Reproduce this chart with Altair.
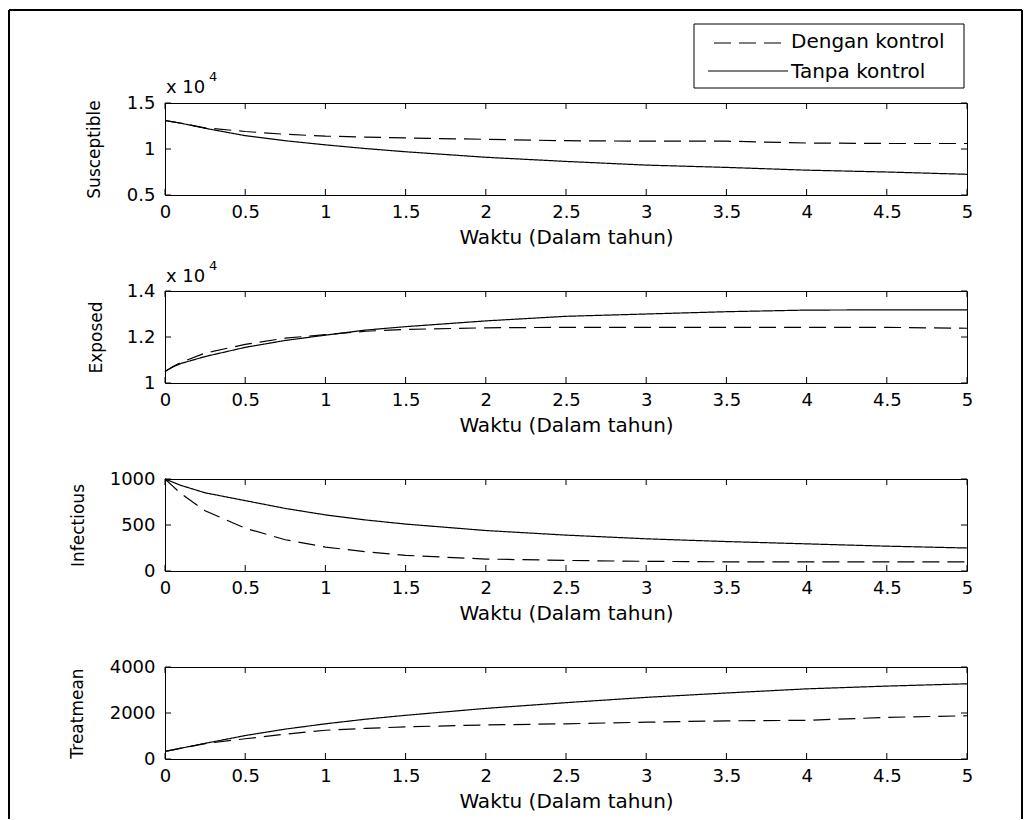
import altair as alt
import pandas as pd

# Time grid (years) and series names
T = [0, 0.05, 0.1, 0.25, 0.5, 0.75, 1, 1.25, 1.5, 2, 2.5, 3, 3.5, 4, 4.5, 5]
SERIES = ["Dengan kontrol", "Tanpa kontrol"]

# Compartment trajectories with and without control
S_DENGAN = [13100, 12950, 12800, 12300, 11900, 11600, 11400, 11300, 11200, 11050, 10900, 10850, 10850, 10650, 10600, 10600]
S_TANPA = [13100, 12950, 12800, 12250, 11450, 10900, 10450, 10050, 9700, 9100, 8650, 8250, 8000, 7700, 7500, 7250]
E_DENGAN = [10500, 10720, 10900, 11300, 11680, 11950, 12100, 12250, 12330, 12400, 12420, 12420, 12420, 12420, 12420, 12380]
E_TANPA = [10500, 10700, 10850, 11150, 11550, 11850, 12080, 12300, 12450, 12700, 12900, 13000, 13100, 13170, 13180, 13180]
I_DENGAN = [1000, 920, 840, 655, 465, 340, 260, 210, 170, 130, 115, 105, 100, 100, 100, 100]
I_TANPA = [1000, 965, 930, 850, 765, 680, 610, 555, 510, 440, 390, 350, 320, 295, 270, 250]
TR_DENGAN = [330, 400, 470, 670, 880, 1080, 1250, 1330, 1400, 1480, 1530, 1600, 1660, 1680, 1810, 1880]
TR_TANPA = [330, 400, 470, 680, 1020, 1300, 1530, 1730, 1900, 2200, 2450, 2680, 2870, 3050, 3170, 3270]

# Tick values
X_TICKS = [0, 0.5, 1, 1.5, 2, 2.5, 3, 3.5, 4, 4.5, 5]
S_TICKS = [5000, 10000, 15000]
E_TICKS = [10000, 12000, 14000]
I_TICKS = [0, 500, 1000]
TR_TICKS = [0, 2000, 4000]

X_TITLE = "Waktu (Dalam tahun)"
EXPONENT = ["x 10", "4"]

W, H = 802, 92
TICK = 6
FONT = "DejaVu Sans"
DASH = [17, 8]
ONE = pd.DataFrame({"k": [0]})


def panel(title, dengan, tanpa, domain, yticks, scaled, title_x, exp_base=None):
    df = pd.DataFrame({
        "t": T * 2,
        "value": dengan + tanpa,
        "series": [SERIES[0]] * len(T) + [SERIES[1]] * len(T),
    })
    xenc = alt.X(
        "t:Q",
        scale=alt.Scale(domain=[0, 5], nice=False, zero=False),
        axis=alt.Axis(values=X_TICKS, labelExpr="'' + datum.value", title=X_TITLE,
                      titleX=W / 2, titleY=42, titleAlign="center", titleBaseline="middle"),
    )
    label_expr = "'' + datum.value / 10000" if scaled else "'' + datum.value"
    yenc = alt.Y(
        "value:Q",
        scale=alt.Scale(domain=domain, nice=False, zero=False),
        axis=alt.Axis(values=yticks, labelExpr=label_expr, title=title,
                      titleX=title_x, titleY=H / 2, titleAngle=270,
                      titleAlign="center", titleBaseline="middle"),
    )
    lines = alt.Chart(df).mark_line(color="black", strokeWidth=1.2).encode(
        x=xenc, y=yenc,
        strokeDash=alt.StrokeDash("series:N", scale=alt.Scale(domain=SERIES, range=[DASH, [1, 0]]), legend=None),
    )
    xt = pd.DataFrame({"t": X_TICKS})
    yt = pd.DataFrame({"value": yticks})
    rule = dict(color="black", strokeWidth=1)
    ticks = [
        alt.Chart(xt).mark_rule(**rule).encode(x=xenc, y=alt.value(0), y2=alt.value(TICK)),
        alt.Chart(xt).mark_rule(**rule).encode(x=xenc, y=alt.value(H - TICK), y2=alt.value(H)),
        alt.Chart(yt).mark_rule(**rule).encode(y=yenc, x=alt.value(0), x2=alt.value(TICK)),
        alt.Chart(yt).mark_rule(**rule).encode(y=yenc, x=alt.value(W - TICK), x2=alt.value(W)),
    ]
    layers = [lines] + ticks
    if exp_base is not None:
        layers.append(alt.Chart(ONE).mark_text(align="left", baseline="alphabetic", font=FONT, fontSize=18, color="black")
                      .encode(x=alt.value(1), y=alt.value(exp_base), text=alt.value(EXPONENT[0])))
        layers.append(alt.Chart(ONE).mark_text(align="left", baseline="alphabetic", font=FONT, fontSize=13, color="black")
                      .encode(x=alt.value(44), y=alt.value(exp_base - 12), text=alt.value(EXPONENT[1])))
    return layers


# Figure frame and legend, drawn relative to the first panel
frame = dict(color="black", strokeWidth=2)
decor = [
    alt.Chart(ONE).mark_rule(**frame).encode(x=alt.value(-156), x2=alt.value(857), y=alt.value(-93)),
    alt.Chart(ONE).mark_rule(**frame).encode(x=alt.value(-156), y=alt.value(-93), y2=alt.value(716)),
    alt.Chart(ONE).mark_rule(**frame).encode(x=alt.value(857), y=alt.value(-93), y2=alt.value(716)),
    alt.Chart(ONE).mark_rect(fill="white", stroke="black", strokeWidth=1).encode(
        x=alt.value(529), x2=alt.value(799), y=alt.value(-79), y2=alt.value(-15)),
    alt.Chart(ONE).mark_rule(color="black", strokeWidth=1.2, strokeDash=DASH).encode(
        x=alt.value(549), x2=alt.value(623), y=alt.value(-60)),
    alt.Chart(ONE).mark_rule(color="black", strokeWidth=1.2).encode(
        x=alt.value(543), x2=alt.value(623), y=alt.value(-32)),
    alt.Chart(ONE).mark_text(align="left", baseline="middle", font=FONT, fontSize=20, color="black").encode(
        x=alt.value(626), y=alt.value(-61), text=alt.value(SERIES[0])),
    alt.Chart(ONE).mark_text(align="left", baseline="middle", font=FONT, fontSize=20, color="black").encode(
        x=alt.value(626), y=alt.value(-31), text=alt.value(SERIES[1])),
]

p1 = alt.layer(*(panel("Susceptible", S_DENGAN, S_TANPA, [5000, 15000], S_TICKS, True, -71, -10) + decor)).properties(width=W, height=H)
p2 = alt.layer(*panel("Exposed", E_DENGAN, E_TANPA, [10000, 14000], E_TICKS, True, -69, -9)).properties(width=W, height=H)
p3 = alt.layer(*panel("Infectious", I_DENGAN, I_TANPA, [0, 1000], I_TICKS, False, -87)).properties(width=W, height=H)
p4 = alt.layer(*panel("Treatmean", TR_DENGAN, TR_TANPA, [0, 4000], TR_TICKS, False, -88)).properties(width=W, height=H)

chart = alt.vconcat(p1, p2, p3, p4, spacing=96, bounds="flush").properties(
    padding={"left": 7, "top": 8, "right": 0, "bottom": 0},
    background="white",
).configure_view(
    stroke="black", strokeWidth=1
).configure_axis(
    labelFont=FONT, labelFontSize=18, labelColor="black", labelFlush=False, labelOverlap=False,
    titleFont=FONT, titleFontWeight="normal", titleColor="black",
    ticks=False, domain=False, grid=False,
).configure_axisX(
    labelPadding=8, titleFontSize=20
).configure_axisY(
    labelPadding=10, titleFontSize=17
)

chart.save("out.html", embed_options={"renderer": "svg", "actions": False})
